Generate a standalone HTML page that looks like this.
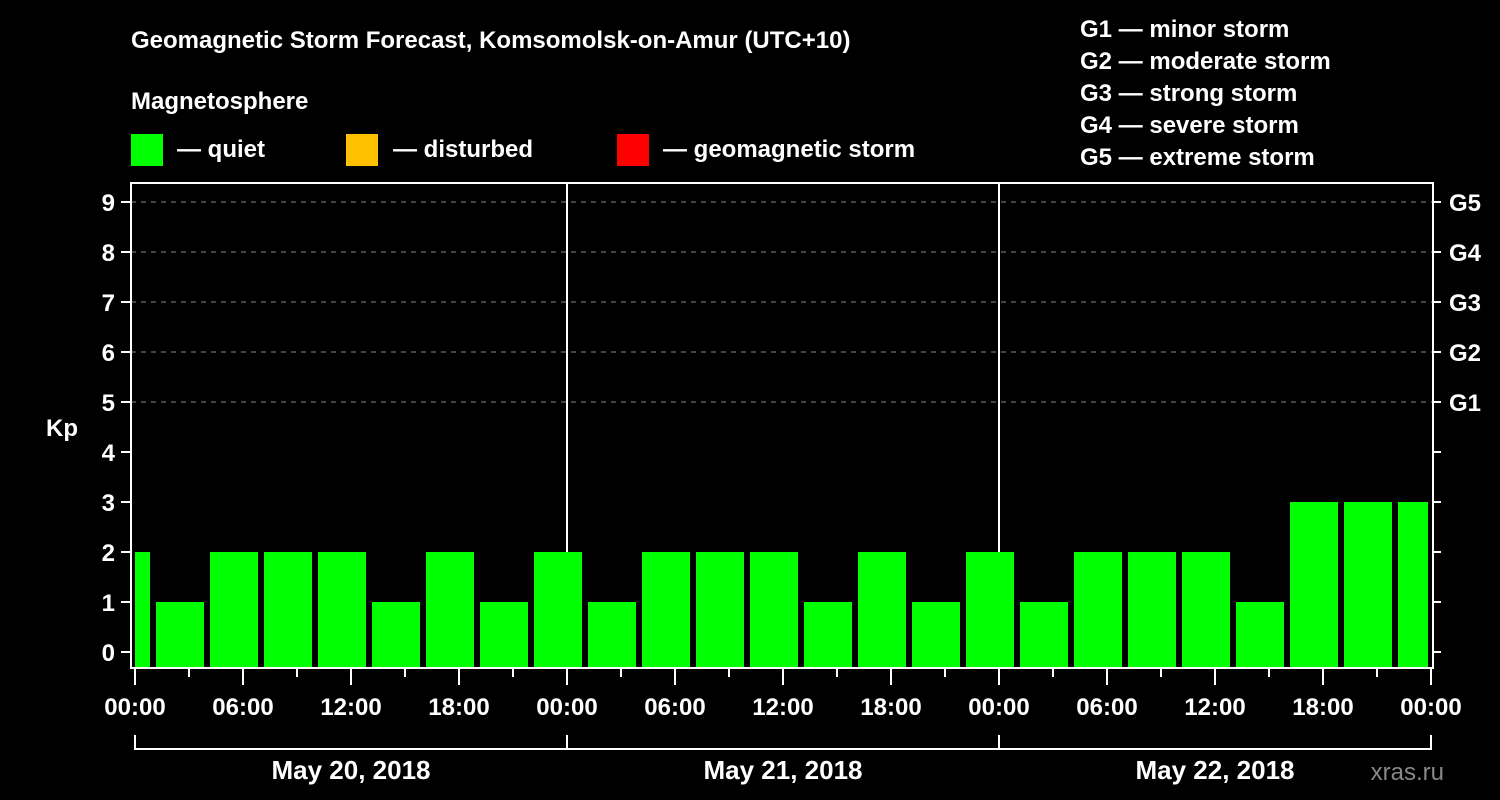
<!DOCTYPE html>
<html><head><meta charset="utf-8"><style>
html,body{margin:0;padding:0;background:#000;}
svg{display:block;}
text{font-family:"Liberation Sans",Arial,sans-serif;font-weight:bold;fill:#fff;}
</style></head><body>
<svg id="chart" width="1500" height="800" viewBox="0 0 1500 800">
<rect x="0" y="0" width="1500" height="800" fill="#000"/>
<text x="131" y="48" font-size="24">Geomagnetic Storm Forecast, Komsomolsk-on-Amur (UTC+10)</text>
<text x="131" y="109" font-size="24">Magnetosphere</text>
<g><rect x="131" y="134" width="32" height="32" fill="#00ff00"/><text x="177" y="157" font-size="24">— quiet</text></g>
<g><rect x="346" y="134" width="32" height="32" fill="#ffc000"/><text x="393" y="157" font-size="24">— disturbed</text></g>
<g><rect x="617" y="134" width="32" height="32" fill="#ff0000"/><text x="663" y="157" font-size="24">— geomagnetic storm</text></g>
<g font-size="24">
<text x="1080" y="37">G1 — minor storm</text>
<text x="1080" y="69">G2 — moderate storm</text>
<text x="1080" y="101">G3 — strong storm</text>
<text x="1080" y="133">G4 — severe storm</text>
<text x="1080" y="165">G5 — extreme storm</text>
</g>
<text x="62" y="436" font-size="24" text-anchor="middle">Kp</text>
<g id="grid"></g><g id="bars"></g><g id="axes"></g>
<text x="1444" y="780" font-size="24" text-anchor="end" fill="#888" style="fill:#888;font-weight:normal">xras.ru</text>
</svg>
<script>
const kpValues=[2,1,2,2,2,1,2,1,2,1,2,2,2,1,2,1,2,1,2,2,2,1,3,3,3];
const barHours=[-0.5,2.5,5.5,8.5,11.5,14.5,17.5,20.5,23.5,26.5,29.5,32.5,35.5,38.5,41.5,44.5,47.5,50.5,53.5,56.5,59.5,62.5,65.5,68.5,71.5];
const yTicks=[0,1,2,3,4,5,6,7,8,9];
const gLabels=["G1","G2","G3","G4","G5"];
const gLevels=[5,6,7,8,9];
const timeLabels=["00:00","06:00","12:00","18:00","00:00","06:00","12:00","18:00","00:00","06:00","12:00","18:00","00:00"];
const dateLabels=["May 20, 2018","May 21, 2018","May 22, 2018"];
const NS="http://www.w3.org/2000/svg";
const X0=135,PX_H=18,Y0=652,PX_K=50,LEFT=131,RIGHT=1433,TOP=183,BOT=668,CLIPR=1428;
const x=h=>X0+h*PX_H, y=k=>Y0-k*PX_K;
function mk(tag,parent,attrs){const e=document.createElementNS(NS,tag);for(const k in attrs)e.setAttribute(k,attrs[k]);document.getElementById(parent).appendChild(e);return e;}
function color(k){return k>=5?"#ff0000":k>=4?"#ffc000":"#00ff00";}
gLevels.forEach(k=>{const l=mk("line","grid",{x1:LEFT,x2:RIGHT,y1:y(k),y2:y(k),stroke:"#888","stroke-dasharray":"5,5","stroke-width":1});

});
mk("line","grid",{x1:y(0)*0+x(8.5*0+0)+432,x2:x(24),y1:TOP,y2:BOT,stroke:"#fff","stroke-width":2});
mk("line","grid",{x1:x(48),x2:x(48),y1:TOP,y2:BOT,stroke:"#fff","stroke-width":2});
kpValues.forEach((v,i)=>{let c=barHours[i];let a=Math.max(x(c-1.333),X0),b=Math.min(x(c+1.333),CLIPR);
const r=mk("rect","bars",{x:a,y:y(v),width:b-a,height:BOT-y(v),fill:color(v)});

});
const ax=mk("path","axes",{d:`M${LEFT} ${TOP}H${RIGHT}V${BOT}H${LEFT}Z`,fill:"none",stroke:"#fff","stroke-width":2});


yTicks.forEach(k=>{mk("line","axes",{x1:LEFT-10,x2:LEFT,y1:y(k),y2:y(k),stroke:"#fff","stroke-width":2});
mk("line","axes",{x1:RIGHT,x2:RIGHT+8,y1:y(k),y2:y(k),stroke:"#fff","stroke-width":2});
const t=mk("text","axes",{x:115,y:y(k)+9,"font-size":24,"text-anchor":"end"});t.textContent=k;

});
gLabels.forEach((g,i)=>{const t=mk("text","axes",{x:1449,y:y(gLevels[i])+9,"font-size":24});t.textContent=g;

});
for(let h=0;h<=72;h+=3){const major=h%6===0;mk("line","axes",{x1:x(h),x2:x(h),y1:BOT,y2:BOT+(major?17:9),stroke:"#fff","stroke-width":2});}
timeLabels.forEach((s,i)=>{const t=mk("text","axes",{x:x(i*6),y:715,"font-size":24,"text-anchor":"middle"});t.textContent=s;

});
mk("path","axes",{d:`M${x(0)} 735V749H${x(72)}V735M${x(24)} 735V749M${x(48)} 735V749`,fill:"none",stroke:"#fff","stroke-width":2});
dateLabels.forEach((s,i)=>{const t=mk("text","axes",{x:x(i*24+12),y:779,"font-size":26,"text-anchor":"middle"});t.textContent=s;

});
</script>
</body></html>
